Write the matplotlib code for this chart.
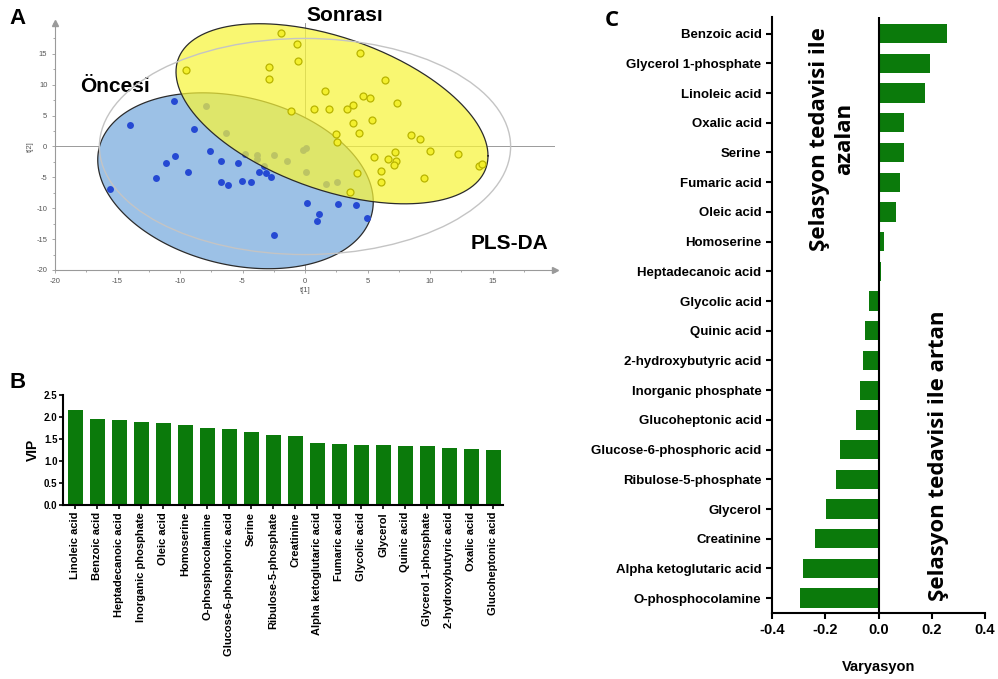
import numpy as np
import matplotlib
matplotlib.use("Agg")
import matplotlib.pyplot as plt
from matplotlib.patches import Ellipse
from matplotlib.ticker import MultipleLocator

plt.rcParams['font.family'] = ['Liberation Sans', 'DejaVu Sans']
plt.rcParams['axes.unicode_minus'] = False

# ---- datos panel A (PLS-DA scores) ----
once_x = [-14.0, -15.6, -10.5, -8.85, -7.6, -10.4, -11.15, -11.9, -9.4, -6.75, -5.36, -6.75,
          -6.13, -5.07, -4.3, -3.7, -3.1, -2.75, -2.5, 0.19, 2.67, 4.05, 1.12, 0.99, 4.93,
          -7.92, -6.32, -4.8, -3.87, -3.87, -3.3, -2.48, -1.47, -0.13, 0.05, 0.05, 1.68, 2.59]
once_y = [3.56, -6.9, 7.3, 2.86, -0.7, -1.46, -2.7, -5.1, -4.1, -2.4, -2.6, -5.7,
          -6.3, -5.6, -5.8, -4.2, -4.3, -5.0, -14.3, -9.2, -9.3, -9.4, -10.9, -12.0, -11.6,
          6.58, 2.16, -1.19, -1.35, -2.1, -3.2, -1.3, -2.37, -0.53, -0.27, -4.15, -6.04, -5.8]

sonra_x = [-9.55, -2.9, -2.85, -1.95, -0.61, -0.56, 4.4, 6.4, 1.57, 4.61, 5.2, 7.33, 0.75,
           1.92, 3.39, 3.87, 5.39, 3.87, 4.32, 8.48, 9.23, 10.0, 12.2, 5.55, 6.61, 7.2, 7.28,
           7.15, 6.11, 6.11, 9.49, 13.95, 14.19, 2.45, 2.53, 4.19, 3.6, -1.15]
sonra_y = [12.4, 12.9, 11.0, 18.35, 16.6, 13.8, 15.1, 10.7, 9.06, 8.25, 7.9, 6.97, 6.15,
           6.05, 6.15, 6.7, 4.32, 3.78, 2.16, 1.89, 1.19, -0.65, -1.18, -1.62, -2.04, -0.97, -2.3,
           -3.07, -4.04, -5.82, -5.07, -3.12, -2.8, 2.0, 0.8, -4.3, -7.4, 5.67]

# elipses de confianza: centro, semieje "u" y semieje vertical conjugado
elipse_once = [(-5.56, -5.55), (11.02, -3.4), 13.83]
elipse_sonra = [(2.16, 5.3), (12.48, -6.8), 12.9]
hotelling = [16.45, 17.5]

# ---- datos panel B (VIP) ----
vip_nombres = ['Linoleic acid', 'Benzoic acid', 'Heptadecanoic acid', 'Inorganic phosphate',
               'Oleic acid', 'Homoserine', 'O-phosphocolamine', 'Glucose-6-phosphoric acid',
               'Serine', 'Ribulose-5-phosphate', 'Creatinine', 'Alpha ketoglutaric acid',
               'Fumaric acid', 'Glycolic acid', 'Glycerol', 'Quinic acid', 'Glycerol 1-phosphate',
               '2-hydroxybutyric acid', 'Oxalic acid', 'Glucoheptonic acid']
vip = [2.17, 1.95, 1.94, 1.88, 1.86, 1.82, 1.74, 1.72, 1.67, 1.58, 1.56, 1.40,
       1.39, 1.37, 1.36, 1.33, 1.33, 1.30, 1.28, 1.25]

# ---- datos panel C (variacion) ----
var_nombres = ['Benzoic acid', 'Glycerol 1-phosphate', 'Linoleic acid', 'Oxalic acid', 'Serine',
               'Fumaric acid', 'Oleic acid', 'Homoserine', 'Heptadecanoic acid', 'Glycolic acid',
               'Quinic acid', '2-hydroxybutyric acid', 'Inorganic phosphate', 'Glucoheptonic acid',
               'Glucose-6-phosphoric acid', 'Ribulose-5-phosphate', 'Glycerol', 'Creatinine',
               'Alpha ketoglutaric acid', 'O-phosphocolamine']
variacion = [0.256, 0.194, 0.173, 0.096, 0.096, 0.080, 0.066, 0.020, 0.011, -0.036,
             -0.049, -0.060, -0.068, -0.086, -0.144, -0.160, -0.199, -0.240, -0.285, -0.294]

verde = '#0b7a0b'
W, H = 998, 679


def elipse(c, u, k):
    t = np.linspace(0, 2 * np.pi, 300)
    x = c[0] + u[0] * np.cos(t)
    y = c[1] + u[1] * np.cos(t) + k * np.sin(t)
    return x, y


def rect(x0, y0, x1, y1):
    # pixeles -> fraccion de figura
    return [x0 / W, 1 - y1 / H, (x1 - x0) / W, (y1 - y0) / H]


fig = plt.figure(figsize=(W / 100, H / 100), dpi=100)

# ================= A =================
axA = fig.add_axes(rect(55, 23, 555, 270))
axA.set_xlim(-20, 20)
axA.set_ylim(-20, 20)

ex, ey = elipse(*elipse_once)
axA.fill(ex, ey, facecolor='#9cc1e6', edgecolor='#2b2b2b', lw=0.9, zorder=1)
axA.plot(once_x, once_y, 'o', color='#2549d3', ms=5, mec='none', zorder=2)
ex, ey = elipse(*elipse_sonra)
axA.fill(ex, ey, facecolor='#f8f53a', alpha=0.72, edgecolor='none', zorder=3)
axA.plot(ex, ey, color='#2b2b2b', lw=0.9, zorder=4)
axA.add_patch(Ellipse((0, 0), 2 * hotelling[0], 2 * hotelling[1], fill=False,
                      edgecolor='#c4c4c4', lw=1.0, zorder=4))
axA.plot(sonra_x, sonra_y, 'o', mfc='#f3ef2c', mec='#b9b400', mew=0.9, ms=5, zorder=5)

axA.axhline(0, color='#8a8a8a', lw=0.6, zorder=0.5)
axA.axvline(0, color='#8a8a8a', lw=0.6, zorder=0.5)

for s in ['top', 'right']:
    axA.spines[s].set_visible(False)
for s in ['left', 'bottom']:
    axA.spines[s].set_color('#9a9a9a')
    axA.spines[s].set_linewidth(0.8)
axA.plot(1, 0, '>', color='#9a9a9a', ms=4, transform=axA.transAxes, clip_on=False)
axA.plot(0, 1, '^', color='#9a9a9a', ms=4, transform=axA.transAxes, clip_on=False)

axA.set_xticks(np.arange(-20, 16, 5))
axA.set_yticks(np.arange(-20, 16, 5))
axA.xaxis.set_minor_locator(MultipleLocator(2.5))
axA.yaxis.set_minor_locator(MultipleLocator(2.5))
axA.tick_params(which='both', colors='#9a9a9a', labelcolor='#555555', labelsize=5.5,
                length=2, width=0.6)
axA.tick_params(which='minor', length=1.5)
axA.set_xlabel('t[1]', fontsize=5.5, color='#555555', labelpad=2)
axA.set_ylabel('t[2]', fontsize=5.5, color='#555555', labelpad=2)

axA.text(-15.2, 9.7, 'Öncesi', fontsize=15, fontweight='bold', ha='center', va='center')
axA.text(3.2, 21.2, 'Sonrası', fontsize=15, fontweight='bold', ha='center', va='center',
         clip_on=False)
axA.text(16.4, -15.7, 'PLS-DA', fontsize=15, fontweight='bold', ha='center', va='center')

# ================= B =================
axB = fig.add_axes(rect(63, 395, 503, 505))
posB = np.arange(len(vip))
axB.bar(posB, vip, width=0.68, color=verde)
axB.set_xlim(-0.55, len(vip) - 0.55)
axB.set_ylim(0, 2.5)
axB.set_yticks([0, 0.5, 1.0, 1.5, 2.0, 2.5])
axB.set_yticklabels(['0.0', '0.5', '1.0', '1.5', '2.0', '2.5'], fontweight='bold')
axB.set_xticks(posB)
axB.set_xticklabels(vip_nombres, rotation=90, fontsize=8, fontweight='bold')
axB.tick_params(axis='y', labelsize=7, length=3, width=1.2, pad=1)
axB.tick_params(axis='x', length=3, width=1.2, pad=2)
for s in ['top', 'right']:
    axB.spines[s].set_visible(False)
for s in ['left', 'bottom']:
    axB.spines[s].set_linewidth(1.5)
axB.set_ylabel('VIP', fontsize=10, fontweight='bold', labelpad=3)

# ================= C =================
axC = fig.add_axes(rect(772, 17, 985, 613))
posC = np.arange(len(variacion))
axC.barh(posC, variacion, height=0.65, color=verde)
axC.axvline(0, color='black', lw=1.5)
axC.set_xlim(-0.4, 0.4)
axC.set_ylim(len(variacion) - 0.5, -0.56)
axC.set_yticks(posC)
axC.set_yticklabels(var_nombres, fontsize=9.5, fontweight='bold')
axC.set_xticks([-0.4, -0.2, 0.0, 0.2, 0.4])
axC.set_xticklabels(['-0.4', '-0.2', '0.0', '0.2', '0.4'], fontsize=10.5, fontweight='bold')
axC.tick_params(length=4, width=1.5)
for s in ['top', 'right']:
    axC.spines[s].set_visible(False)
for s in ['left', 'bottom']:
    axC.spines[s].set_linewidth(1.5)
axC.set_xlabel('Varyasyon', fontsize=10.5, fontweight='bold', labelpad=16)

axC.text(-0.174, 3.56, 'Şelasyon tedavisi ile\nazalan', rotation=90, ha='center', va='center',
         multialignment='center', fontsize=16, fontweight='bold', family='Open Sans',
         linespacing=1.3)
axC.text(0.224, 14.2, 'Şelasyon tedavisi ile artan', rotation=90, ha='center', va='center',
         fontsize=16, fontweight='bold', family='Open Sans')

# letras de panel
fig.text(18 / W, 1 - 18 / H, 'A', fontsize=16, fontweight='bold', ha='center', va='center')
fig.text(18 / W, 1 - 383 / H, 'B', fontsize=16, fontweight='bold', ha='center', va='center')
fig.text(612 / W, 1 - 21 / H, 'C', fontsize=16, fontweight='bold', ha='center', va='center',
         family='Open Sans')

plt.savefig('out.png', dpi=100)
